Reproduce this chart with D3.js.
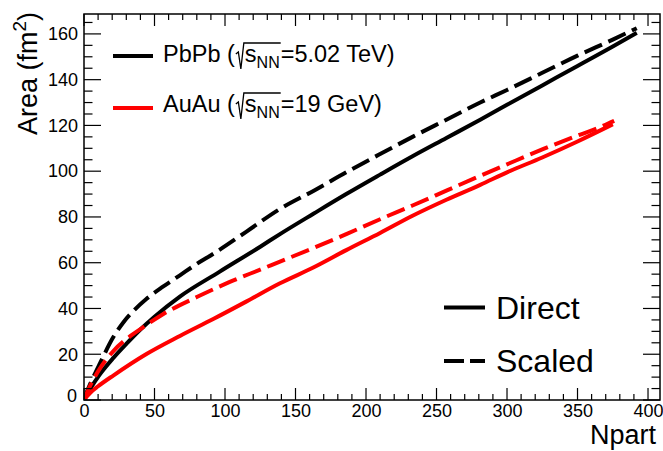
<!DOCTYPE html>
<html><head><meta charset="utf-8">
<script src="https://cdn.jsdelivr.net/npm/d3@7"></script>
<style>body{margin:0;background:#fff}svg{display:block}text{font-family:"Liberation Sans",Arial,Helvetica,sans-serif}</style>
</head><body><svg id="c" width="663" height="451"></svg>
<script>
// ---- data ----
const npartPbPbDirect = [0, 2, 5, 11, 21, 30, 40, 50, 68, 96, 125, 139, 163, 186, 210, 233, 257, 281, 300, 325, 350, 375, 392];
const areaPbPbDirect  = [0, 2.5, 5.5, 11, 18.5, 24.5, 30.8, 36.4, 45.2, 56, 67, 72.5, 81.5, 90, 98.5, 106.5, 114.5, 122.5, 129, 137.5, 146, 154.5, 160.5];
const npartPbPbScaled = [0, 2, 6.6, 11.3, 20.8, 28, 36, 44, 56, 68, 80, 92, 115, 139, 163, 186, 210, 233, 257, 281, 300, 325, 350, 375, 392];
const areaPbPbScaled  = [0, 3.5, 10, 16, 27.5, 34, 39.5, 44, 49.5, 54.5, 59.5, 64, 73.5, 83.5, 91.5, 99.5, 107.5, 115, 122.5, 130, 135.5, 143, 150.5, 157.5, 162.5];
const npartAuAuDirect = [0, 2, 5, 10, 21, 44, 68, 92, 115, 139, 163, 186, 210, 233, 257, 281, 300, 325, 350, 375];
const areaAuAuDirect  = [0, 1.5, 3.5, 6, 10.8, 20, 28, 35.5, 43, 51, 58, 65.5, 73, 80.5, 87.5, 94, 99.5, 106, 113, 120.5];
const npartAuAuScaled = [0, 2, 5, 11, 21, 33, 40, 56, 80, 103, 125, 139, 163, 186, 210, 233, 257, 281, 300, 325, 352, 365, 376];
const areaAuAuScaled  = [0, 3, 7, 13.5, 21.5, 28, 31, 37.5, 45, 51.5, 57, 60.5, 66.5, 72.5, 79, 85, 91.5, 98, 103, 109.5, 116, 119, 122];
const xTicks = [0, 50, 100, 150, 200, 250, 300, 350, 400];
const yTicks = [0, 20, 40, 60, 80, 100, 120, 140, 160];
const seriesNames = ["PbPb (√s_NN=5.02 TeV)", "AuAu (√s_NN=19 GeV)"];
const styleNames = ["Direct", "Scaled"];

// ---- layout ----
const svg = d3.select("#c");
const L = 84, R = 660, T = 14, B = 400;
const x = d3.scaleLinear().domain([0, 408.5]).range([L, R]);
const y = d3.scaleLinear().domain([0, 168.7]).range([B, T]);
const DASH = "19,7";

const series = [
  {n: npartPbPbDirect, a: areaPbPbDirect, c: "#000", d: null},
  {n: npartPbPbScaled, a: areaPbPbScaled, c: "#000", d: DASH},
  {n: npartAuAuDirect, a: areaAuAuDirect, c: "#ff0000", d: null},
  {n: npartAuAuScaled, a: areaAuAuScaled, c: "#ff0000", d: DASH}
];
const line = d3.line().x(d => x(d[0])).y(d => y(d[1])).curve(d3.curveMonotoneX);
const g = svg.append("g");
g.append("clipPath").attr("id","clip").append("rect").attr("x",L).attr("y",T).attr("width",R-L).attr("height",B-T);
series.forEach(s => {
  g.append("path").attr("clip-path","url(#clip)")
    .attr("d", line(s.n.map((v,i)=>[v, s.a[i]])))
    .attr("fill","none").attr("stroke", s.c).attr("stroke-width", 4)
    .attr("stroke-dasharray", s.d).attr("stroke-linejoin","round");
});

// ---- axes (ROOT style ticks inside) ----
const ax = svg.append("g").attr("stroke","#000").attr("stroke-width",1.2);
d3.range(0, 409, 10).forEach(v => {
  const len = v % 50 === 0 ? 12 : 6;
  ax.append("line").attr("x1",x(v)).attr("x2",x(v)).attr("y1",B).attr("y2",B-len);
  ax.append("line").attr("x1",x(v)).attr("x2",x(v)).attr("y1",T).attr("y2",T+len);
});
d3.range(0, 169, 5).forEach(v => {
  const len = v % 20 === 0 ? 17 : 8.5;
  ax.append("line").attr("y1",y(v)).attr("y2",y(v)).attr("x1",L).attr("x2",L+len);
  ax.append("line").attr("y1",y(v)).attr("y2",y(v)).attr("x1",R).attr("x2",R-len);
});
svg.append("rect").attr("x",L).attr("y",T).attr("width",R-L).attr("height",B-T)
  .attr("fill","none").attr("stroke","#000").attr("stroke-width",1.5);

const xAxisG = svg.append("g").attr("transform",`translate(0,${B})`)
  .call(d3.axisBottom(x).tickValues(xTicks).tickSize(0).tickPadding(6).tickFormat(d3.format("d")));
xAxisG.select(".domain").remove();
xAxisG.selectAll("text").attr("font-size",18).attr("font-family","Liberation Sans, Arial, sans-serif").attr("fill","#000").attr("dy","0.62em");
const yAxisG = svg.append("g").attr("transform",`translate(${L},0)`)
  .call(d3.axisLeft(y).tickValues(yTicks).tickSize(0).tickPadding(6).tickFormat(d3.format("d")));
yAxisG.select(".domain").remove();
yAxisG.selectAll("text").attr("font-size",18).attr("font-family","Liberation Sans, Arial, sans-serif").attr("fill","#000");
yAxisG.selectAll(".tick").filter(d => d===0).select("text").attr("dy","0.1em").attr("x",-7);

// axis titles
const yt = svg.append("text").attr("transform","translate(37,12) rotate(-90)")
  .attr("text-anchor","end").attr("font-size",27).attr("fill","#000");
yt.append("tspan").text("Area (fm");
yt.append("tspan").text("2").attr("font-size",19).attr("dy",-11);
yt.append("tspan").text(")").attr("dy",11);
svg.append("text").attr("x",656).attr("y",444).attr("text-anchor","end")
  .attr("font-size",27).attr("fill","#000").text("Npart");

// ---- legend 1 ----
function sqrtLabel(x0, base, pre, post) {
  const lg = svg.append("g");
  const fs = 23.5;
  const t1 = lg.append("text").attr("x",x0).attr("y",base).attr("font-size",fs).text(pre);
  let cx = x0 + t1.node().getComputedTextLength() + 1;
  const rx = cx;
  const top = base - 19;
  cx += 9;
  const ts = lg.append("text").attr("x",cx).attr("y",base).attr("font-size",fs).text("s");
  cx += ts.node().getComputedTextLength();
  const tn = lg.append("text").attr("x",cx).attr("y",base+6).attr("font-size",16).text("NN");
  cx += tn.node().getComputedTextLength();
  lg.append("path").attr("d",`M${rx},${base-8} L${rx+2.5},${base-10} L${rx+5},${base+7} L${rx+8},${top} L${cx+1},${top}`)
    .attr("fill","none").attr("stroke","#000").attr("stroke-width",1.3);
  lg.append("text").attr("x",cx+1).attr("y",base).attr("font-size",fs).text(post);
}
const leg1 = [{c:"#000", y:56, base:62}, {c:"#ff0000", y:108, base:112}];
leg1.forEach((l,i) => {
  svg.append("line").attr("x1",113).attr("x2",153).attr("y1",l.y).attr("y2",l.y)
    .attr("stroke",l.c).attr("stroke-width",4);
  const parts = seriesNames[i].split("√s_NN");
  sqrtLabel(163, l.base, parts[0], parts[1]);
});

// ---- legend 2 ----
const leg2 = [{y:307.5, base:318.5, d:null}, {y:361, base:372, d:DASH}];
leg2.forEach((l,i) => {
  svg.append("line").attr("x1",444).attr("x2",485).attr("y1",l.y).attr("y2",l.y)
    .attr("stroke","#000").attr("stroke-width",4).attr("stroke-dasharray", l.d ? "20,6" : null);
  svg.append("text").attr("x",496).attr("y",l.base).attr("font-size",32).attr("fill","#000").text(styleNames[i]);
});
</script></body></html>
